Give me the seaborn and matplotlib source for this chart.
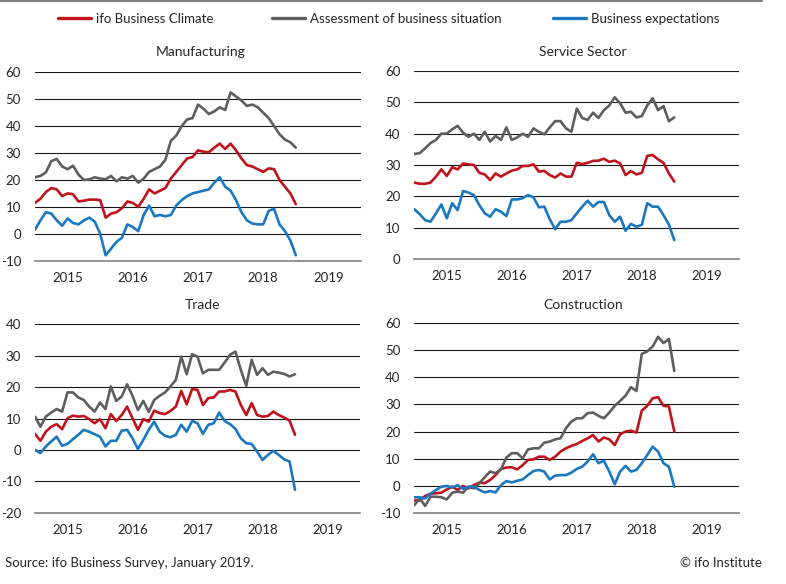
import numpy as np
import pandas as pd
import seaborn as sns
import matplotlib.pyplot as plt
from matplotlib.lines import Line2D

# months Jan 2015 .. Jan 2019
months = list(range(49))
years = ["2015", "2016", "2017", "2018", "2019"]
series_names = ["ifo Business Climate", "Assessment of business situation", "Business expectations"]
colors = {"ifo Business Climate": "#c0141c",
          "Assessment of business situation": "#5e5e5e",
          "Business expectations": "#1a78c2"}

man_climate = [11.5, 13, 15.5, 17, 16.5, 14, 15, 14.7, 12, 12.3, 12.7, 12.7, 12.5, 6, 7.5, 8, 9.5,
               12, 11.5, 10, 13, 16.5, 15, 16, 17, 20.5, 23, 25.5, 28, 28.5, 31, 30.5, 30.3, 32,
               33.5, 31.5, 33.5, 31, 28, 25.5, 25, 24, 23, 24.3, 24, 20, 17.5, 15, 11]
man_situation = [21, 21.5, 22.8, 27, 27.8, 25, 24, 25.3, 22, 20, 20.2, 21, 20.5, 20.3, 21.5, 19.5,
                 21, 20.5, 21.5, 19, 20.5, 23, 24, 25, 27.5, 34.5, 36.5, 40, 42.5, 43, 48, 46.5,
                 44.5, 45.5, 47, 46, 52.5, 51, 49.5, 47.5, 48, 47, 45, 43, 40, 37, 35, 34, 32]
man_expect = [1.5, 5, 8, 7.5, 5, 3, 5.7, 4, 3.5, 5, 6, 4.5, 0, -8, -5.5, -3, -1.5, 3.5, 2.5, 1, 7,
              10.5, 6.5, 7, 6.5, 7, 10.5, 12.5, 14, 15, 15.5, 16, 16.5, 19, 21, 17.5, 16, 12.5, 8,
              5, 3.8, 3.5, 3.5, 8.5, 9.3, 3.5, 1, -2.5, -8]

svc_climate = [24.4, 24, 24, 24.4, 26.3, 28.6, 26.5, 29.3, 28.6, 30.5, 30.2, 30, 27.5, 27, 25.2,
               27.3, 26.3, 27.3, 28.2, 28.6, 29.7, 29.7, 30.2, 27.9, 28.1, 26.8, 26, 27.3, 26.3,
               26.3, 30.7, 30.3, 30.7, 31.3, 31.4, 32, 31, 31.4, 30.5, 26.8, 28.1, 27, 27.5, 32.9,
               33.2, 31.8, 30.7, 27.3, 24.7]
svc_situation = [33.5, 33.8, 35.3, 37, 38, 40, 40, 41.4, 42.5, 40.3, 39, 40, 38, 40.6, 37.5, 39.3,
                 38, 42, 38, 38.8, 40, 39, 41.7, 40.6, 39.8, 42, 44, 44, 41.7, 40.6, 48, 45, 44.4,
                 46.7, 45, 47.5, 49, 51.6, 49.7, 46.7, 47, 45.2, 45.6, 49, 51.3, 47.5, 48.8, 44, 45.2]
svc_expect = [15.9, 14.3, 12.4, 11.9, 14.6, 17.4, 13, 17.8, 15.6, 21.7, 21.2, 20.4, 17.2, 14.6,
              13.5, 15.9, 15.1, 13.7, 19, 19, 19.4, 20.4, 19.7, 16.5, 16.7, 12.7, 9.5, 11.9, 11.9,
              12.4, 14.6, 16.7, 18.6, 16.7, 18.2, 18.2, 14, 11.9, 13.5, 9, 11.2, 10.3, 10.9, 17.8,
              16.7, 16.7, 14, 11, 6]

trd_climate = [5.1, 2.9, 5.8, 7.4, 8.2, 6.6, 10.1, 10.9, 10.6, 10.8, 9.8, 8.5, 9.8, 6.9, 11.4, 9.2,
               11.1, 13.8, 10.1, 6.4, 9.8, 9, 12.5, 11.7, 11.4, 12.4, 13.8, 18.8, 14.5, 19.4, 19.1,
               14.3, 16.5, 16.7, 18.6, 18.6, 19.1, 18.6, 14.3, 11.1, 14.9, 11.1, 10.6, 10.8, 12.2,
               11.1, 10.3, 9.3, 4.8]
trd_situation = [10.6, 7.4, 10.6, 11.9, 13, 12.2, 18.3, 18.3, 16.7, 15.9, 13.8, 12.2, 15.1, 13,
                 20.2, 15.6, 17, 20.9, 17.2, 12.7, 15.6, 12.1, 15.9, 17.2, 18.3, 20.2, 22.3, 29.7,
                 24.1, 30.5, 29.7, 24.4, 25.5, 25.5, 25.5, 27.8, 30.3, 31.3, 25.5, 20.4, 28.7, 23.9,
                 26, 23.9, 24.9, 24.6, 24.2, 23.4, 24.1]
trd_expect = [0, -1, 1.1, 2.7, 4.2, 1.3, 1.9, 3.4, 4.8, 6.4, 5.8, 5, 4.2, 1.1, 2.9, 2.9, 6.1, 6.4,
              3.7, 0.3, 3.2, 6.4, 9, 5.8, 4.5, 4, 4.8, 8, 5.8, 9.2, 8.5, 5.1, 8, 8.5, 11.9, 9.2,
              8.2, 6.7, 3.7, 2.1, 1.9, -0.5, -3.2, -1.6, -0.3, -1.6, -3, -3.7, -12.7]

con_climate = [-5.5, -5.5, -3.8, -3, -2.8, -2.6, -1.4, -0.4, -1.6, -0.1, -1, 0.2, 1.1, 0.9, 2.1,
               3.9, 6.2, 6.7, 6.8, 6, 7.6, 9.5, 9.7, 10.7, 10.7, 9.5, 10.7, 12.6, 13.8, 14.7, 15.4,
               16.5, 17.5, 18.7, 16.3, 17.8, 17.1, 15, 19, 20, 20.3, 19.6, 27.7, 29.5, 32.3, 32.7,
               29.5, 29.3, 20]
con_situation = [-7.2, -4.7, -7.5, -4.1, -4.1, -4.3, -5.1, -2.6, -2.2, -2.6, -0.4, -1, 0.9, 3.1,
                 5.2, 4.6, 6, 10.4, 12, 12, 10.1, 13.4, 13.8, 13.8, 15.9, 16.3, 17.1, 17.5, 21.2,
                 23.7, 24.9, 24.9, 26.8, 27, 25.8, 24.9, 27, 29.5, 31.3, 33.3, 36.4, 35, 48.7, 49.6,
                 51.4, 55, 52.7, 54.2, 42.4]
con_expect = [-4.3, -4.3, -4.7, -3, -1.6, -0.4, -0.1, -0.7, 0.2, -1.2, -0.4, -0.4, -1.6, -2.5, -2,
              -2.5, 0.2, 1.7, 1.2, 1.8, 2.3, 3.9, 5.4, 5.8, 5.2, 2.3, 3.7, 3.9, 3.9, 4.8, 6.2, 7,
              8.9, 11.6, 8.3, 9.2, 5.2, 0.5, 5.2, 7.3, 5.2, 5.8, 8.3, 11.3, 14.4, 12.6, 8.3, 7, -0.4]

panels = [
    ("Manufacturing", (man_climate, man_situation, man_expect), (-10, 60)),
    ("Service Sector", (svc_climate, svc_situation, svc_expect), (0, 60)),
    ("Trade", (trd_climate, trd_situation, trd_expect), (-20, 40)),
    ("Construction", (con_climate, con_situation, con_expect), (-10, 60)),
]

sns.set_style("white")
plt.rcParams['font.family'] = ['Lato', 'DejaVu Sans']
plt.rcParams['font.size'] = 9
plt.rcParams['axes.unicode_minus'] = False

W, H = 786, 584
fig = plt.figure(figsize=(W / 100, H / 100), dpi=100)


def box(left, top, right, bottom):
    return [left / W, 1 - bottom / H, (right - left) / W, (bottom - top) / H]


boxes = [box(35, 72.3, 361, 260.7), box(414.3, 71, 739.3, 259),
         box(35, 324.3, 360, 512.7), box(414.3, 323.3, 739.3, 512.7)]
title_pos = [(201, 52.5), (583, 52.5), (202, 305), (583, 305)]

for (title, values, ylim), rect, tpos in zip(panels, boxes, title_pos):
    ax = fig.add_axes(rect)
    df = pd.DataFrame({
        "month": months * 3,
        "value": np.concatenate(values),
        "series": np.repeat(series_names, len(months)),
    })
    for y in range(ylim[0] + 10, ylim[1] + 1, 10):
        ax.axhline(y, color="#1a1a1a", lw=0.8, zorder=1)
    sns.lineplot(data=df, x="month", y="value", hue="series", hue_order=series_names,
                 palette=colors, lw=1.9, ax=ax, legend=False, zorder=3)
    ax.set_xlim(0, 60)
    ax.set_ylim(*ylim)
    ax.set_yticks(range(ylim[0], ylim[1] + 1, 10))
    ax.set_xticks([0, 12, 24, 36, 48, 60])
    ax.set_xticklabels([])
    ax.set_xticks([6, 18, 30, 42, 54], minor=True)
    ax.set_xticklabels(years, minor=True)
    ax.tick_params(axis="x", which="major", length=4, width=1, color="#808080", direction="out")
    ax.tick_params(axis="x", which="minor", length=0, pad=8, labelsize=9.5)
    ax.tick_params(axis="y", length=0, pad=10, labelsize=9.5)
    ax.set_xlabel("")
    ax.set_ylabel("")
    for s in ["top", "right", "left"]:
        ax.spines[s].set_visible(False)
    ax.spines["bottom"].set_color("#808080")
    ax.spines["bottom"].set_linewidth(1.2)
    ax.spines["bottom"].set_zorder(4)
    fig.text(tpos[0] / W, 1 - tpos[1] / H, title, ha="center", va="center", fontsize=10)

# legend entries placed one by one, like the original header
legend_x = [58, 272, 553]
for name, x0 in zip(series_names, legend_x):
    fig.legend([Line2D([], [], color=colors[name], lw=2.4)], [name], loc="center left",
               bbox_to_anchor=(x0 / W, 1 - 19 / H), frameon=False, fontsize=9.5,
               handlelength=2.5, handletextpad=0.35, borderpad=0, borderaxespad=0)

fig.add_artist(Line2D([0, 762 / W], [1 - 1 / H, 1 - 1 / H], color="#808080", lw=1.5))
fig.text(5 / W, 1 - 563 / H, "Source: ifo Business Survey, January 2019.", ha="left", va="center",
         fontsize=9.5)
fig.text(762 / W, 1 - 563 / H, "© ifo Institute", ha="right", va="center", fontsize=9.5)

fig.savefig("out.png", dpi=100)
